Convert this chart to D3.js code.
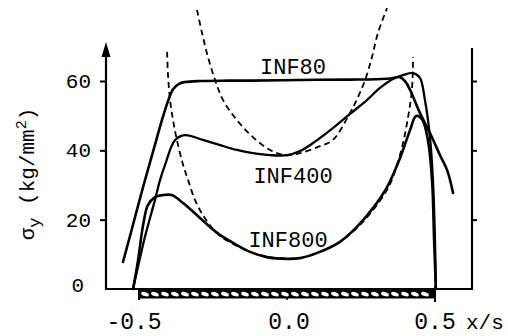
<!DOCTYPE html>
<html><head><meta charset="utf-8">
<script src="https://cdn.jsdelivr.net/npm/d3@7"></script>
<style>body{margin:0;background:#fff}svg{display:block}</style>
</head><body>
<script>
// ---- data ----
const yTicks = [20, 40, 60];
const xTickLabels = ["-0.5", "0.0", "0.5"];
const xTickValues = [-0.5, 0.0, 0.5];

const inf80X = [-0.554,-0.52,-0.486,-0.453,-0.42,-0.402,-0.385,-0.365,-0.345,-0.294,-0.2,-0.125,0.044,0.213,0.30,0.348,0.382,0.40,0.416,0.449,0.483,0.517,0.541,0.561];
const inf80Y = [7.8,18.6,29.5,39.5,49.4,54.2,57.6,59.2,59.7,60,60.1,60.1,60.3,60.4,60.5,60.7,61.1,59.8,57.4,50.8,45,38.6,34.3,27.7];

const inf400X = [-0.52,-0.48,-0.446,-0.429,-0.412,-0.378,-0.345,-0.284,-0.226,-0.169,-0.115,-0.057,0.0,0.044,0.088,0.155,0.213,0.27,0.314,0.358,0.392,0.426,0.449,0.466,0.483,0.493,0.50,0.503];
const inf400Y = [0,15,25.7,31.4,35.8,43,44.4,43,41.5,40.1,39.2,38.6,38.6,39.8,42.1,46.4,50.5,54.5,58,60.6,61.7,62.3,60.9,54.5,43.8,31.4,14,0];

const inf800X = [-0.52,-0.503,-0.486,-0.47,-0.446,-0.419,-0.389,-0.351,-0.294,-0.236,-0.182,-0.125,-0.068,0.0,0.044,0.111,0.179,0.236,0.291,0.338,0.382,0.416,0.436,0.456,0.476,0.49,0.497,0.503];
const inf800Y = [0,8.4,18.5,24.2,26.5,27.1,27.1,24.8,20.5,16.2,13.3,10.7,9.2,8.7,8.9,10.7,13.6,17.9,23.4,29.4,37.8,45.9,49.9,49,43,31.4,14,0];

const dashUX = [-0.304,-0.287,-0.267,-0.243,-0.216,-0.169,-0.115,-0.057,-0.007,0.044,0.111,0.155,0.213,0.24,0.264,0.287,0.307,0.338];
const dashUY = [80.5,73.8,66.9,60.3,54.5,48.7,43.8,40.1,38.6,39.2,41.2,43,50.8,55.4,60.3,66.9,73.8,81];

const dashEX = [-0.405,-0.402,-0.395,-0.385,-0.372,-0.351,-0.334,-0.311,-0.284,-0.253,-0.226,-0.182,-0.125,-0.057,0.0,0.044,0.111,0.179,0.236,0.291,0.338,0.358,0.389,0.409,0.422,0.426];
const dashEY = [68.4,61.7,54.5,48.7,43,35.8,31.4,25.7,21.3,17.6,15.3,13,10.7,9.2,8.8,8.9,10.7,13.6,17.6,22.8,28.6,32.3,41,49.6,57.4,66.9];

const curveLabels = ["INF80", "INF400", "INF800"];
const labelPos = [[0.0, 60], [0.0, 30.5], [0.0, 12]];

// ---- drawing ----
const W = 508, H = 336;
const svg = d3.select("body").append("svg").attr("width", W).attr("height", H);
const font = "'Liberation Mono','DejaVu Sans Mono',monospace";

const x = d3.scaleLinear().domain([-0.5, 0.5]).range([139, 435]);
const y = d3.scaleLinear().domain([0, 60]).range([289, 81]);

const line = d3.line().x(d => x(d[0])).y(d => y(d[1])).curve(d3.curveCatmullRom.alpha(0.5));
const zip = (a, b) => a.map((v, i) => [v, b[i]]);

// frame: left axis with arrow
svg.append("line").attr("x1", 106).attr("x2", 106).attr("y1", y(0)).attr("y2", 52)
  .attr("stroke", "#000").attr("stroke-width", 2.2);
svg.append("path").attr("d", "M106,42 L101.5,57 L110.5,57 Z").attr("fill", "#000");
const yAxis = svg.append("g").attr("transform", "translate(106,0)")
  .call(d3.axisLeft(y).tickValues(yTicks).tickSize(6).tickSizeOuter(0).tickFormat(""));
yAxis.select(".domain").remove();
yAxis.selectAll(".tick line").attr("stroke", "#000").attr("stroke-width", 2);

// y tick labels
svg.append("g").selectAll("text").data([0].concat(yTicks)).join("text")
  .attr("x", d => d === 0 ? 84 : 91).attr("y", d => y(d) + (d === 0 ? 3 : 7))
  .attr("text-anchor", "end").attr("font-family", font).attr("font-size", 21)
  .text(d => d);

// right axis
svg.append("line").attr("x1", 472).attr("x2", 472).attr("y1", y(0)).attr("y2", 48)
  .attr("stroke", "#000").attr("stroke-width", 2.2);
const rAxis = svg.append("g").attr("transform", "translate(472,0)")
  .call(d3.axisRight(y).tickValues(yTicks).tickSize(5).tickSizeOuter(0).tickFormat(""));
rAxis.select(".domain").remove();
rAxis.selectAll(".tick line").attr("stroke", "#000").attr("stroke-width", 2);

// bottom line
svg.append("line").attr("x1", 105).attr("x2", 473).attr("y1", y(0)).attr("y2", y(0))
  .attr("stroke", "#000").attr("stroke-width", 2);

// hatched slab
svg.append("rect").attr("x", x(-0.5)).attr("y", 290).attr("width", x(0.5) - x(-0.5)).attr("height", 8.5)
  .attr("fill", "#000");
svg.append("g").selectAll("ellipse").data(d3.range(x(-0.5) + 6, x(0.5) - 3, 10)).join("ellipse")
  .attr("cx", d => d).attr("cy", 294.2).attr("rx", 4).attr("ry", 2)
  .attr("transform", d => `rotate(18,${d},294.2)`).attr("fill", "#fff");
svg.append("line").attr("x1", x(-0.5)).attr("x2", x(-0.5)).attr("y1", 290).attr("y2", 300)
  .attr("stroke", "#000").attr("stroke-width", 2);
svg.append("line").attr("x1", x(0.5)).attr("x2", x(0.5)).attr("y1", 286).attr("y2", 302)
  .attr("stroke", "#000").attr("stroke-width", 2);
svg.append("line").attr("x1", x(0)).attr("x2", x(0)).attr("y1", 297).attr("y2", 300)
  .attr("stroke", "#000").attr("stroke-width", 1.5);

// x tick labels
const xOff = [-5, 2, 0];
svg.append("g").selectAll("text").data(xTickValues).join("text")
  .attr("x", (d, i) => x(d) + xOff[i]).attr("y", 329)
  .attr("text-anchor", "middle").attr("font-family", font).attr("font-size", 23)
  .text((d, i) => xTickLabels[i]);
svg.append("text").attr("x", 466).attr("y", 329).attr("font-family", font).attr("font-size", 21)
  .text("x/s");

// y axis title
const yt = svg.append("text").attr("transform", "translate(34,174) rotate(-90)")
  .attr("text-anchor", "middle").attr("font-family", font).attr("font-size", 21);
yt.append("tspan").text("σ");
yt.append("tspan").attr("dy", 6).attr("font-size", 17).text("y");
yt.append("tspan").attr("dy", -6).text(" (kg/mm");
yt.append("tspan").attr("dy", -8).attr("font-size", 15).text("2");
yt.append("tspan").attr("dy", 8).text(")");

// dashed curves
svg.append("path").attr("d", line(zip(dashUX, dashUY))).attr("fill", "none")
  .attr("stroke", "#000").attr("stroke-width", 1.8).attr("stroke-dasharray", "6,4");
svg.append("path").attr("d", line(zip(dashEX, dashEY))).attr("fill", "none")
  .attr("stroke", "#000").attr("stroke-width", 1.8).attr("stroke-dasharray", "6,4");

// solid curves
svg.append("path").attr("d", line(zip(inf80X, inf80Y))).attr("fill", "none")
  .attr("stroke", "#000").attr("stroke-width", 2.6).attr("stroke-linecap", "round");
svg.append("path").attr("d", line(zip(inf400X, inf400Y))).attr("fill", "none")
  .attr("stroke", "#000").attr("stroke-width", 2.3).attr("stroke-linecap", "round");
svg.append("path").attr("d", line(zip(inf800X, inf800Y))).attr("fill", "none")
  .attr("stroke", "#000").attr("stroke-width", 2.6).attr("stroke-linecap", "round");

// curve labels
svg.append("g").selectAll("text").data(curveLabels).join("text")
  .attr("x", (d, i) => x(labelPos[i][0]) + (i === 2 ? 1 : 6))
  .attr("y", (d, i) => y(labelPos[i][1]) - (i === 0 ? 7 : 0))
  .attr("text-anchor", "middle").attr("font-family", font).attr("font-size", 22)
  .attr("fill", "#000").text(d => d);
</script>
</body></html>
